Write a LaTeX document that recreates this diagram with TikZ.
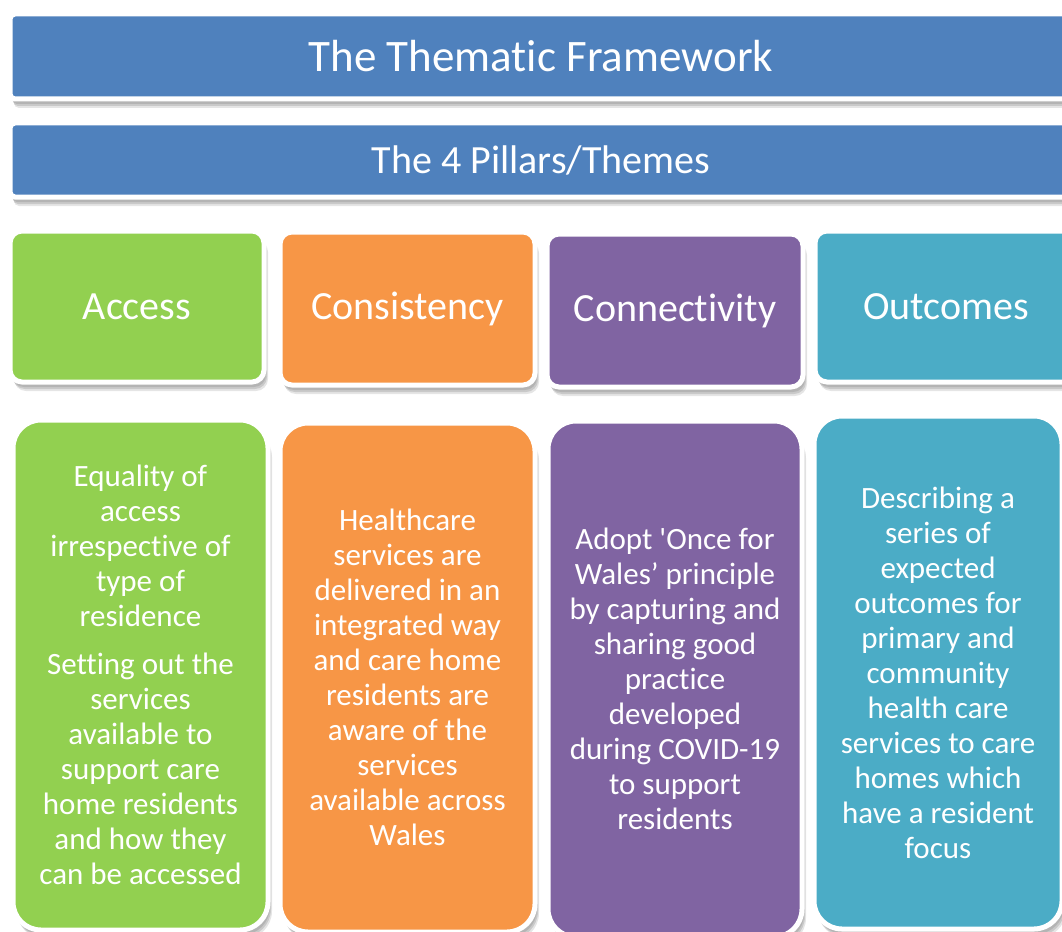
\documentclass[tikz,border=0pt]{standalone}
\usepackage{fontspec}
\setmainfont{Carlito}[Ligatures={TeX,NoCommon}]
\usepackage{tikz}
\usetikzlibrary{positioning,shadows}

\definecolor{barblue}{HTML}{4F81BD}
\definecolor{accessgreen}{HTML}{92D050}
\definecolor{consorange}{HTML}{F79646}
\definecolor{connpurple}{HTML}{8064A2}
\definecolor{outteal}{HTML}{4BACC6}

\tikzset{
    panel/.style={draw=white, line width=5pt, text=white, align=center,
        inner sep=0pt, outer sep=0pt,
        drop shadow={shadow xshift=2pt, shadow yshift=-5pt, opacity=0.10, fill=black},
        drop shadow={shadow xshift=3pt, shadow yshift=-7pt, opacity=0.12, fill=black},
        drop shadow={shadow xshift=4pt, shadow yshift=-9pt, opacity=0.10, fill=black}},
    titlebar/.style={panel, fill=barblue, rounded corners=5pt, minimum width=1062pt},
    pillar/.style={panel, rounded corners=12pt, minimum height=151pt,
        font=\fontsize{40}{48}\selectfont},
    detail/.style={panel, rounded corners=28pt,
        font=\fontsize{31}{35}\selectfont}
}

\begin{document}
\begin{tikzpicture}[x=1pt, y=-1pt]
    \useasboundingbox[fill=white] (0,0) rectangle (1062,931);

    % Title bars
    \node[titlebar, minimum height=85pt, font=\fontsize{45}{54}\selectfont] (framework) at (541,56.5) {The Thematic Framework};
    \node[titlebar, minimum height=74pt, font=\fontsize{40}{48}\selectfont] (pillars) at (541,160) {The 4 Pillars/Themes};

    % Pillar headings
    \node[pillar, fill=accessgreen, minimum width=254pt] (access) at (137,306.5) {Access};
    \node[pillar, fill=consorange, minimum width=255pt, minimum height=153pt] (consistency) at (407.5,308.5) {Consistency};
    \node[pillar, fill=connpurple, minimum width=256pt, minimum height=153pt] (connectivity) at (675,310.5) {Connectivity};
    \node[pillar, fill=outteal, minimum width=262pt] (outcomes) at (946,306.5) {Outcomes};

    % Access details
    \node[detail, fill=accessgreen, minimum width=255pt, minimum height=510pt] (accessinfo) at (140.5,675) {
        Equality of\\ access\\ irrespective of\\ type of\\ residence\\[13pt]
        Setting out the\\ services\\ available to\\ support care\\ home residents\\ and how they\\ can be accessed};

    % Consistency details
    \node[detail, fill=consorange, minimum width=255pt, minimum height=509pt] (consistencyinfo) at (407.5,677.5) {
        Healthcare\\ services are\\ delivered in an\\ integrated way\\ and care home\\ residents are\\ aware of the\\ services\\ available across\\ Wales};

    % Connectivity details
    \node[detail, fill=connpurple, minimum width=254pt, minimum height=516pt] (connectivityinfo) at (675,679) {
        Adopt \textquotesingle Once for\\ Wales’ principle\\ by capturing and\\ sharing good\\ practice\\ developed\\ during COVID-19\\ to support\\ residents};

    % Outcomes details
    \node[detail, fill=outteal, minimum width=248pt, minimum height=513pt] (outcomesinfo) at (938,672.5) {
        Describing a\\ series of\\ expected\\ outcomes for\\ primary and\\ community\\ health care\\ services to care\\ homes which\\ have a resident\\ focus};
\end{tikzpicture}
\end{document}
